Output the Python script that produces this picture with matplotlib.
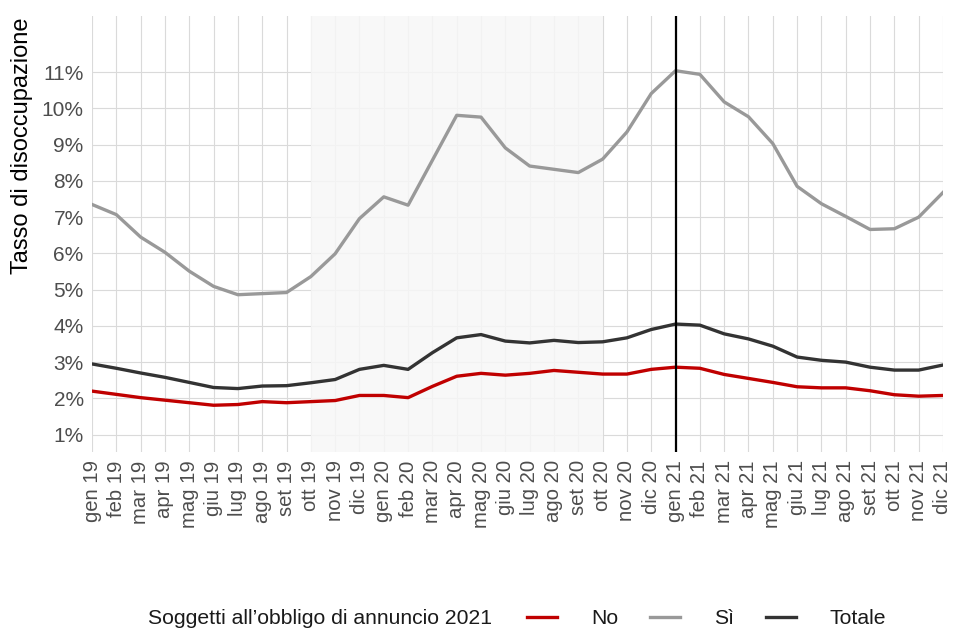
import matplotlib
matplotlib.use("Agg")
import matplotlib.pyplot as plt
from matplotlib.lines import Line2D
from matplotlib.ticker import FixedLocator

plt.rcParams['font.family'] = ['Liberation Sans', 'DejaVu Sans']

months = ["gen 19", "feb 19", "mar 19", "apr 19", "mag 19", "giu 19", "lug 19", "ago 19", "set 19",
          "ott 19", "nov 19", "dic 19",
          "gen 20", "feb 20", "mar 20", "apr 20", "mag 20", "giu 20", "lug 20", "ago 20", "set 20",
          "ott 20", "nov 20", "dic 20",
          "gen 21", "feb 21", "mar 21", "apr 21", "mag 21", "giu 21", "lug 21", "ago 21", "set 21",
          "ott 21", "nov 21", "dic 21"]

si = [7.35, 7.07, 6.45, 6.03, 5.51, 5.09, 4.86, 4.89, 4.92, 5.36, 5.99, 6.96,
      7.56, 7.33, 8.57, 9.81, 9.76, 8.91, 8.41, 8.32, 8.23, 8.60, 9.35, 10.41,
      11.04, 10.94, 10.18, 9.77, 9.03, 7.85, 7.37, 7.02, 6.66, 6.68, 7.00, 7.68]

no = [2.20, 2.11, 2.02, 1.95, 1.88, 1.81, 1.83, 1.91, 1.88, 1.91, 1.94, 2.08,
      2.08, 2.02, 2.33, 2.61, 2.69, 2.64, 2.69, 2.77, 2.72, 2.67, 2.67, 2.80,
      2.86, 2.83, 2.66, 2.55, 2.44, 2.32, 2.29, 2.29, 2.21, 2.10, 2.06, 2.08]

totale = [2.95, 2.83, 2.70, 2.58, 2.44, 2.30, 2.27, 2.34, 2.35, 2.43, 2.52, 2.80,
          2.91, 2.80, 3.26, 3.67, 3.76, 3.58, 3.53, 3.60, 3.54, 3.56, 3.67, 3.90,
          4.05, 4.02, 3.78, 3.64, 3.44, 3.14, 3.05, 3.00, 2.86, 2.78, 2.78, 2.92]

y_ticks = [1, 2, 3, 4, 5, 6, 7, 8, 9, 10, 11]
shade_start, shade_end = "ott 19", "ott 20"
vline_month = "gen 21"

legend_title = "Soggetti all\u2019obbligo di annuncio 2021"
series_names = ["No", "Sì", "Totale"]
colors = ["#c00000", "#999999", "#333333"]

fig = plt.figure(figsize=(9.56, 6.3), dpi=100)
ax = fig.add_axes([92/956, 1 - 452/630, (943 - 92)/956, (452 - 16)/630])

x = list(range(len(months)))
ax.set_xlim(0, len(months) - 1)
ax.set_ylim(0.52, 12.55)

ax.grid(True, color="#dadada", linewidth=0.8, zorder=0)
ax.set_axisbelow(True)
for s in ax.spines.values():
    s.set_visible(False)

ax.axvspan(months.index(shade_start), months.index(shade_end), color="#f7f7f7", alpha=0.85,
           linewidth=0, zorder=1)

for vals, c in zip([no, si, totale], colors):
    ax.plot(x, vals, color=c, linewidth=2.4, zorder=3, solid_joinstyle="round")

ax.axvline(months.index(vline_month), color="black", linewidth=1.6, zorder=4)

ax.set_xticks(x)
ax.set_xticklabels(months, rotation=90, fontsize=14.6, color="#4d4d4d")
ax.yaxis.set_major_locator(FixedLocator(y_ticks))
ax.set_yticklabels([f"{v}%" for v in y_ticks], fontsize=15, color="#4d4d4d")
ax.tick_params(axis="both", length=0)
ax.tick_params(axis="x", pad=6)
ax.tick_params(axis="y", pad=6)

fig.text(22/956, 1 - 17/630, "Tasso di disoccupazione", rotation=90, fontsize=17,
         color="black", ha="center", va="top")

fig.text(148/956, 1 - 619/630, legend_title, fontsize=15.2, color="#1a1a1a",
         ha="left", va="center")
handles = [Line2D([0], [0], color=c, linewidth=2.4) for c in colors]
fig.legend(handles, series_names, ncol=3, loc="center left",
           bbox_to_anchor=(527/956, 1 - 619/630), frameon=False,
           fontsize=15.2, handlelength=1.42, handletextpad=1.62,
           columnspacing=1.5, borderpad=0, borderaxespad=0, labelcolor="#1a1a1a")

fig.savefig("out.png", dpi=100)
